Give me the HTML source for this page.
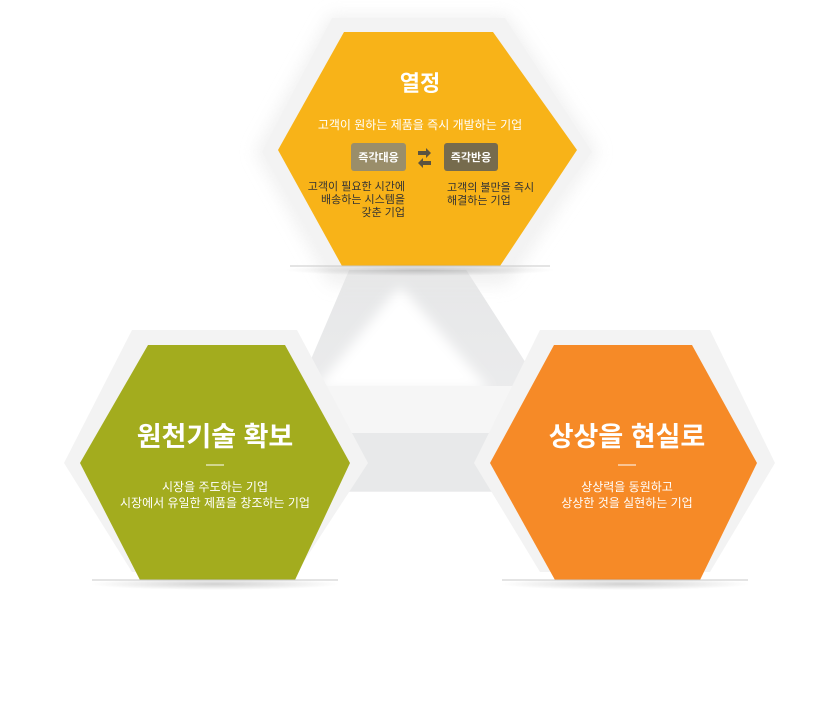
<!DOCTYPE html>
<html><head><meta charset="utf-8"><style>
html,body{margin:0;padding:0;background:#fff;}
svg text{font-family:"Liberation Sans","Noto Sans CJK KR",sans-serif;}
</style></head><body>
<svg width="839" height="715" viewBox="0 0 839 715" xmlns="http://www.w3.org/2000/svg">
<defs>
<filter id="sh" x="-20%" y="-20%" width="140%" height="140%"><feGaussianBlur stdDeviation="8"/></filter>
<filter id="bl" x="-20%" y="-20%" width="140%" height="140%"><feGaussianBlur stdDeviation="6"/></filter>
<linearGradient id="tri" x1="0" y1="0" x2="0" y2="1"><stop offset="0" stop-color="#e6e7e8"/><stop offset="1" stop-color="#efeff0"/></linearGradient>
<radialGradient id="bs" cx="0.5" cy="0.5" r="0.5"><stop offset="0" stop-color="#000" stop-opacity="0.18"/><stop offset="1" stop-color="#000" stop-opacity="0"/></radialGradient>
</defs>
<!-- triangle background -->
<polygon points="350,268 465,268 540,385 545,492 300,492 300,385" fill="url(#tri)"/>
<polygon points="400,285 490,390 315,390" fill="#ffffff" filter="url(#bl)"/>
<rect x="300" y="386" width="245" height="47" fill="#f6f6f6"/>
<rect x="300" y="433" width="245" height="58" fill="#e8e9ea"/>

<!-- top hex -->
<polygon points="330,15 507,15 598,152 507,285 330,285 255,152" fill="#e8e8e8" filter="url(#sh)" opacity="0.6"/>
<polygon points="332,18 505,18 592,152 505,270 332,270 262,152" fill="#f3f3f3"/>
<polygon points="344,32 493,32 577,150 500,266 342,266 278,150" fill="#f8b318"/>
<ellipse cx="420" cy="270" rx="135" ry="6" fill="url(#bs)"/>
<line x1="290" y1="266" x2="550" y2="266" stroke="#c9c9c9" stroke-width="1"/>
<text x="420" y="91" font-size="22" font-weight="bold" fill="#fff" text-anchor="middle">열정</text>
<text x="420" y="129" font-size="12" fill="#fff" text-anchor="middle">고객이 원하는 제품을 즉시 개발하는 기업</text>
<rect x="351" y="143" width="55" height="28" rx="3" fill="#9a8e6a"/>
<text x="378.5" y="161" font-size="11" font-weight="bold" fill="#fff" text-anchor="middle">즉각대응</text>
<rect x="444" y="143" width="54" height="28" rx="3" fill="#766b4d"/>
<text x="471" y="161" font-size="11" font-weight="bold" fill="#fff" text-anchor="middle">즉각반응</text>
<polygon points="418,151 426,151 426,148 431,153 426,158 426,155 418,155" fill="#5a5340"/>
<polygon points="431,161 423,161 423,158 418,163 423,168 423,165 431,165" fill="#5a5340"/>
<g font-size="11" fill="#333">
<text x="405" y="190" text-anchor="end">고객이 필요한 시간에</text>
<text x="405" y="203" text-anchor="end">배송하는 시스템을</text>
<text x="405" y="216" text-anchor="end">갖춘 기업</text>
<text x="447" y="191">고객의 불만을 즉시</text>
<text x="447" y="204">해결하는 기업</text>
</g>

<!-- green hex -->
<polygon points="132,330 297,330 368,463 297,572 132,572 64,463" fill="#f3f3f3"/>
<polygon points="148,345 285,345 350,463 295,580 140,580 80,463" fill="#a3ac1e"/>
<ellipse cx="215" cy="584" rx="125" ry="6" fill="url(#bs)"/>
<line x1="92" y1="580" x2="338" y2="580" stroke="#c9c9c9" stroke-width="1"/>
<text x="215" y="446" font-size="27" font-weight="bold" fill="#fff" text-anchor="middle">원천기술 확보</text>
<line x1="206" y1="465" x2="224" y2="465" stroke="#fff" stroke-width="1"/>
<text x="215" y="491" font-size="12" fill="#fff" text-anchor="middle">시장을 주도하는 기업</text>
<text x="215" y="507" font-size="12" fill="#fff" text-anchor="middle">시장에서 유일한 제품을 창조하는 기업</text>

<!-- orange hex -->
<polygon points="540,330 710,330 775,463 710,572 540,572 474,463" fill="#f3f3f3"/>
<polygon points="554,345 692,345 757,463 700,580 555,580 490,463" fill="#f68a27"/>
<ellipse cx="625" cy="584" rx="125" ry="6" fill="url(#bs)"/>
<line x1="502" y1="580" x2="748" y2="580" stroke="#c9c9c9" stroke-width="1"/>
<text x="627" y="446" font-size="27" font-weight="bold" fill="#fff" text-anchor="middle">상상을 현실로</text>
<line x1="618" y1="465" x2="636" y2="465" stroke="#fff" stroke-width="1"/>
<text x="627" y="491" font-size="12" fill="#fff" text-anchor="middle">상상력을 동원하고</text>
<text x="627" y="507" font-size="12" fill="#fff" text-anchor="middle">상상한 것을 실현하는 기업</text>
</svg>
</body></html>
